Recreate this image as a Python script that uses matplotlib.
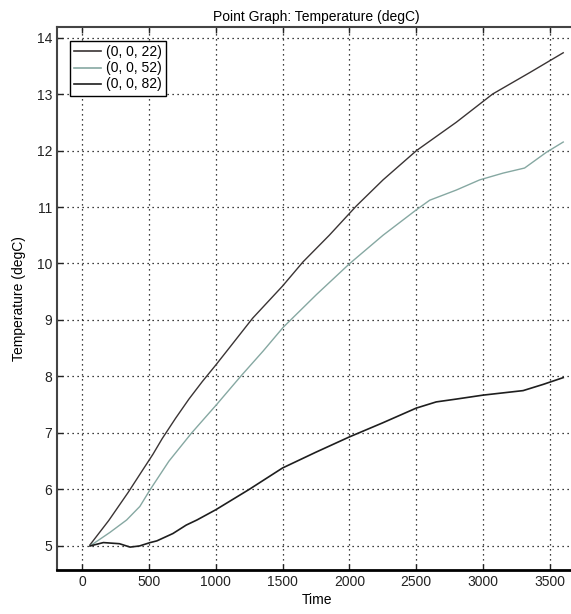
import matplotlib
matplotlib.use("Agg")
import matplotlib.pyplot as plt

plt.rcParams['font.family'] = ['Liberation Sans', 'DejaVu Sans']

# series
t_top = [60, 200, 346, 450, 530, 600, 700, 800, 900, 1000, 1100, 1276, 1500,
         1654, 1850, 2053, 2252, 2503, 2800, 3072, 3350, 3600]
temp_top = [5.02, 5.45, 5.95, 6.33, 6.62, 6.9, 7.26, 7.6, 7.91, 8.2, 8.5, 9.03, 9.6,
            10.03, 10.5, 11.02, 11.48, 12.0, 12.5, 13.0, 13.38, 13.73]

t_mid = [60, 209, 334, 433, 508, 650, 820, 1006, 1186, 1355, 1505, 1754, 2003,
         2252, 2501, 2601, 2800, 2975, 3150, 3311, 3475, 3600]
temp_mid = [5.0, 5.24, 5.46, 5.7, 5.99, 6.5, 7.0, 7.5, 8.0, 8.45, 8.87, 9.45, 10.0,
            10.5, 10.95, 11.12, 11.3, 11.48, 11.6, 11.69, 11.97, 12.15]

t_low = [60, 160, 280, 360, 430, 510, 560, 680, 780, 860, 1000, 1250, 1500, 1750,
         2000, 2250, 2500, 2650, 2800, 3000, 3150, 3300, 3450, 3600]
temp_low = [5.0, 5.06, 5.04, 4.98, 5.0, 5.06, 5.09, 5.22, 5.37, 5.46, 5.64, 6.0,
            6.38, 6.66, 6.93, 7.18, 7.44, 7.55, 7.6, 7.67, 7.71, 7.75, 7.86, 7.98]

labels = ['(0, 0, 22)', '(0, 0, 52)', '(0, 0, 82)']
x_ticks = [0, 500, 1000, 1500, 2000, 2500, 3000, 3500]
y_ticks = [5, 6, 7, 8, 9, 10, 11, 12, 13, 14]

fig = plt.figure(figsize=(5.71, 6.14), dpi=100)
ax = fig.add_axes([0.0998, 0.0717, 0.91, 0.8843])

ax.plot(t_top, temp_top, color='#3a3434', lw=1.0, label=labels[0])
ax.plot(t_mid, temp_mid, color='#86a8a2', lw=1.0, label=labels[1])
ax.plot(t_low, temp_low, color='#1e1e1e', lw=1.2, label=labels[2])

ax.set_xlim(-187, 3700)
ax.set_ylim(4.575, 14.186)
ax.set_xticks(x_ticks)
ax.set_yticks(y_ticks)
ax.tick_params(direction='in', length=4, width=1, labelsize=10, colors='#222222',
               top=True, right=True)
ax.grid(True, color='black', linestyle=(0, (1, 3)), linewidth=0.9)

for side in ['left', 'top']:
    ax.spines[side].set_color('#444444')
    ax.spines[side].set_linewidth(1.5)
ax.spines['bottom'].set_color('black')
ax.spines['bottom'].set_linewidth(2)

ax.set_title('Point Graph: Temperature (degC)', fontsize=10, pad=4)
ax.set_xlabel('Time', fontsize=10, labelpad=3)
ax.set_ylabel('Temperature (degC)', fontsize=10)
ax.yaxis.set_label_coords(-0.06, 0.5)

leg = ax.legend(loc='upper left', bbox_to_anchor=(0.025, 0.974), borderaxespad=0,
                fontsize=10, fancybox=False, framealpha=1, edgecolor='black',
                handlelength=1.9, handletextpad=0.4, labelspacing=0.15,
                borderpad=0.3)
leg.get_frame().set_linewidth(1.0)
for h in leg.get_lines():
    h.set_linewidth(1.2)

fig.savefig('out.png', dpi=100)
